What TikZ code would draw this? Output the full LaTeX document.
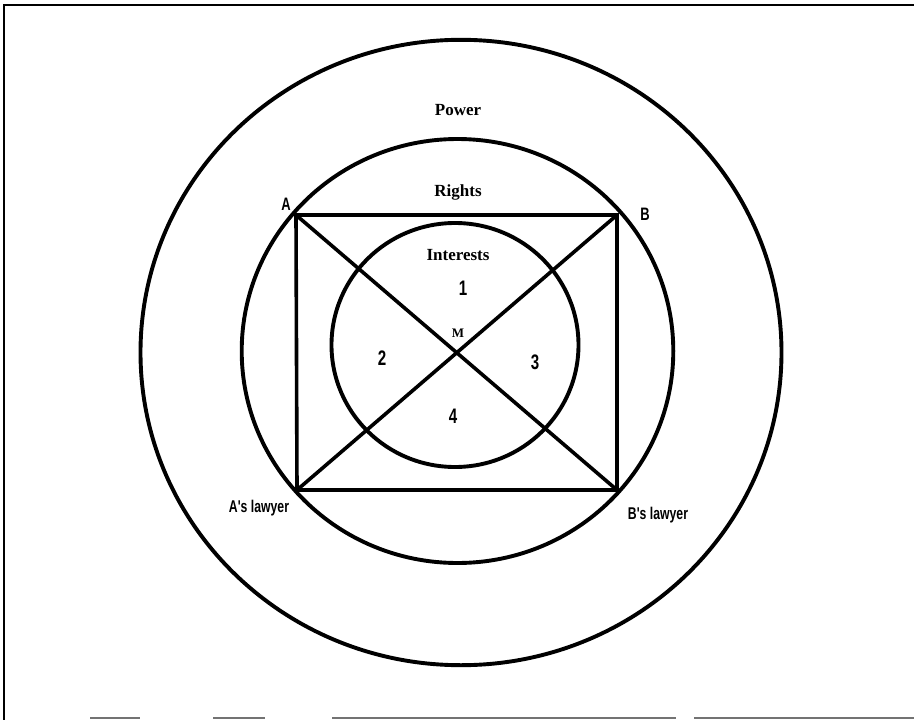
\documentclass[tikz,border=0pt]{standalone}
\usepackage{fontspec}
\setmainfont{Liberation Serif}
\newfontfamily\narrowfont[FakeStretch=0.72]{Liberation Sans}
\begin{document}
\begin{tikzpicture}[x=1pt,y=-1pt,
  ring/.style={line width=3.9pt},
  boxline/.style={line width=3.6pt, line join=miter},
  serifbold/.style={font=\fontsize{17}{20}\selectfont\bfseries},
  narrowlbl/.style={font=\narrowfont\fontsize{#1}{#1}\selectfont\bfseries},
  framel/.style={line width=2pt},
  frameb/.style={line width=1.5pt, black!55}]
\useasboundingbox (0,0) rectangle (914,720);
% frame
\draw[framel] (3.5,720) -- (3.5,5) -- (914,5);
\draw[frameb] (90,718) -- (140,718);
\draw[frameb] (213,718) -- (265,718);
\draw[frameb] (332,718) -- (676,718);
\draw[frameb] (694,718) -- (914,718);
% circles
\coordinate (co) at (461,352.5);
\coordinate (cm) at (457.5,351);
\coordinate (ci) at (455,345);
\draw[ring] (co) ellipse [x radius=320.5, y radius=312.7];
\draw[ring] (cm) ellipse [x radius=215.8, y radius=212];
\draw[ring] (ci) ellipse [x radius=123.5, y radius=122];
% rectangle corners
\coordinate (A) at (296,215);
\coordinate (B) at (617,215);
\coordinate (AL) at (297,490);
\coordinate (BL) at (617,490);
\draw[boxline] (A) -- (B) -- (BL) -- (AL) -- cycle;
\draw[boxline] (A) -- (BL);
\draw[boxline] (B) -- (AL);
% labels
\node[serifbold] (power) at (458,110) {Power};
\node[serifbold] (rights) at (458,192) {Rights};
\node[serifbold] (interests) at (458,255) {Interests};
\node[font=\fontsize{13}{13}\selectfont\bfseries] (m) at (458,333) {M};
\node[narrowlbl=21] (n1) at (463,288) {1};
\node[narrowlbl=21] (n2) at (382,358) {2};
\node[narrowlbl=21] (n3) at (535,362) {3};
\node[narrowlbl=21] (n4) at (453,416) {4};
\node[narrowlbl=18] (la) at (286,204) {A};
\node[narrowlbl=18] (lb) at (645,214) {B};
\node[narrowlbl=17] (lal) at (259,508) {A's lawyer};
\node[narrowlbl=17] (lbl) at (658,515) {B's lawyer};
\end{tikzpicture}
\end{document}
